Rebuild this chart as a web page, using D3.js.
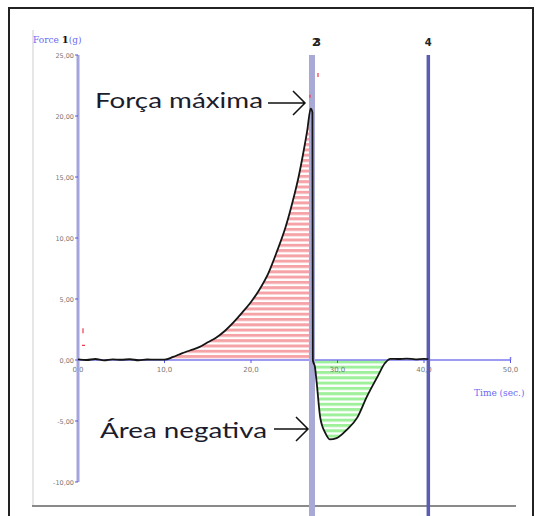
<!DOCTYPE html>
<html><head><meta charset="utf-8">
<script src="https://cdn.jsdelivr.net/npm/d3@7"></script>
<style>body{margin:0;background:#fff}svg{display:block}</style>
</head><body>
<script>
// ---- data ----
const timeVals  = [0,1,2,3,4,5,6,7,8,9,10,11,12,13,14,15,16,17,18,19,20,21,22,23,24,25,25.5,26,26.5,26.9,27.1,27.15,27.4,27.6,28.0,28.6,29.1,29.9,31.1,32.3,33.4,34.6,35.5,36.1,37,38,39,40,40.5];
const forceVals = [0.05,0.0,0.08,-0.03,0.05,0.02,0.06,-0.02,0.04,0.03,0.03,0.25,0.55,0.8,1.05,1.45,1.85,2.4,3.1,3.9,4.75,5.8,7.1,8.9,10.9,13.5,15.0,16.8,18.8,20.6,20.3,0.0,-0.6,-1.9,-4.7,-6.0,-6.5,-6.4,-5.7,-4.7,-3.0,-1.4,-0.25,0.1,0.08,0.12,0.05,0.1,0.08];
const yTicks = [25,20,15,10,5,0,-5,-10];
const yTickLabels = ["25,00","20,00","15,00","10,00","5,00","0,00","-5,00","-10,00"];
const xTicks = [0,10,20,30,40,50];
const xTickLabels = ["0,0","10,0","20,0","30,0","40,0","50,0"];
const cursorTimes = [0,27.05,40.5];
const cursorLabels = ["1","23","4"];
const peakRange = [10,27.15];
const negRange = [27.15,36.1];

const W=541,H=516;
const svg=d3.select("body").append("svg").attr("width",W).attr("height",H);
const x=d3.scaleLinear().domain([0,50]).range([78,510.5]);
const y=d3.scaleLinear().domain([-10,25]).range([482,55]);
const pts=timeVals.map((t,i)=>({t,f:forceVals[i]}));

// patterns
const defs=svg.append("defs");
function stripe(id,col){
  const p=defs.append("pattern").attr("id",id).attr("patternUnits","userSpaceOnUse").attr("width",6).attr("height",5.3);
  p.append("rect").attr("width",6).attr("height",5.3).attr("fill","#fff");
  p.append("rect").attr("width",6).attr("height",3).attr("fill",col);
}
stripe("red","#f6a3a8");
stripe("green","#9ef09a");

// frame
svg.append("path").attr("d","M9,516V8H533V516").attr("fill","none").attr("stroke","#222").attr("stroke-width",2);
svg.append("line").attr("x1",33).attr("x2",33).attr("y1",30).attr("y2",506).attr("stroke","#e6e6e6").attr("stroke-width",2);
svg.append("line").attr("x1",32).attr("x2",516).attr("y1",506).attr("y2",506).attr("stroke","#8a8a8a").attr("stroke-width",2);

// fills
const curve=d3.curveMonotoneX;
const redPts=pts.filter(d=>d.t>=peakRange[0]&&d.t<=peakRange[1]);
const greenPts=pts.filter(d=>d.t>=negRange[0]&&d.t<=negRange[1]);
svg.append("path").datum(redPts).attr("fill","url(#red)")
  .attr("d",d3.area().curve(curve).x(d=>x(d.t)).y0(y(0)).y1(d=>y(Math.max(d.f,0))));
svg.append("path").datum(greenPts).attr("fill","url(#green)")
  .attr("d",d3.area().curve(curve).x(d=>x(d.t)).y0(y(0)).y1(d=>y(Math.min(d.f,0))));

// x axis line
svg.append("line").attr("x1",x(0)).attr("x2",x(50)).attr("y1",y(0)).attr("y2",y(0)).attr("stroke","#7a7aee").attr("stroke-width",1.5);
svg.append("line").attr("x1",x(50)).attr("x2",x(50)).attr("y1",y(0)-3).attr("y2",y(0)).attr("stroke","#7a7aee").attr("stroke-width",1.5);
xTicks.forEach((v,i)=>{
  svg.append("line").attr("x1",x(v)).attr("x2",x(v)).attr("y1",y(0)).attr("y2",y(0)+3).attr("stroke","#5555ee").attr("stroke-width",1);
  svg.append("text").attr("x",x(v)).attr("y",y(0)+12).attr("text-anchor","middle")
    .attr("font-family","DejaVu Sans").attr("font-size",7).attr("fill","#777").text(xTickLabels[i]);
});

// cursors
const cur=[{w:3,c:"#a4a4de",y2:y(-10)},{w:6,c:"#a9a9d6",y2:516},{w:3.5,c:"#5c5cb4",y2:516}];
cursorTimes.forEach((t,i)=>{
  svg.append("line").attr("x1",x(t)).attr("x2",x(t)).attr("y1",y(25)).attr("y2",cur[i].y2)
    .attr("stroke",cur[i].c).attr("stroke-width",cur[i].w);
  if(i>0){
    svg.append("text").attr("x",x(t)+(i===1?2:0)).attr("y",46).attr("text-anchor","middle")
      .attr("font-family","DejaVu Sans").attr("font-weight","bold").attr("font-size",10)
      .attr("letter-spacing",i===1?-5:0).attr("fill","#222").text(cursorLabels[i]);
  }
});

// y ticks
yTicks.forEach((v,i)=>{
  svg.append("line").attr("x1",x(0)-3).attr("x2",x(0)).attr("y1",y(v)).attr("y2",y(v)).attr("stroke","#5555ee").attr("stroke-width",1);
  svg.append("text").attr("x",x(0)-4).attr("y",y(v)+2.5).attr("text-anchor","end")
    .attr("font-family","DejaVu Sans").attr("font-size",6.5).attr("fill","#777").text(yTickLabels[i]);
});

// curve
svg.append("path").datum(pts).attr("fill","none").attr("stroke","#151515").attr("stroke-width",1.8)
  .attr("d",d3.line().curve(curve).x(d=>x(d.t)).y(d=>y(d.f)));

// small red markers
svg.append("path").attr("d",`M${x(0)+5},${y(2.2)}v-5 M${x(0)+4},${y(1.2)}h3 M${x(cursorTimes[1])-2},${y(21.5)}v-3 M${x(cursorTimes[1])+6},${y(23.2)}v-4`)
  .attr("stroke","#f03a4a").attr("stroke-width",1.2);

// axis titles
const ft=svg.append("text").attr("x",33).attr("y",43).attr("font-family","DejaVu Serif").attr("font-size",9);
ft.append("tspan").attr("fill","#6a6af0").text("Force  ");
ft.append("tspan").attr("fill","#111").attr("font-weight","bold").attr("font-size",10).text(cursorLabels[0]);
ft.append("tspan").attr("fill","#6a6af0").text("(g)");
svg.append("text").attr("x",474).attr("y",396).attr("font-family","DejaVu Serif").attr("font-size",9).attr("fill","#6a6af0").text("Time (sec.)");

// annotations
function ann(txt,tx,ty,len,ax1,ax2,ay){
  svg.append("text").attr("x",tx).attr("y",ty).attr("font-family","Lato").attr("font-size",21)
    .attr("fill","#1c1c2c").attr("textLength",len).attr("lengthAdjust","spacingAndGlyphs").text(txt);
  svg.append("path").attr("d",`M${ax1},${ay}H${ax2} M${ax2-12},${ay-12}L${ax2},${ay}L${ax2-12},${ay+12}`)
    .attr("fill","none").attr("stroke","#111").attr("stroke-width",1.5);
}
ann("Força máxima",95,108,168,268,305,103);
ann("Área negativa",100,438,167,274,308,429);
</script>
</body></html>
